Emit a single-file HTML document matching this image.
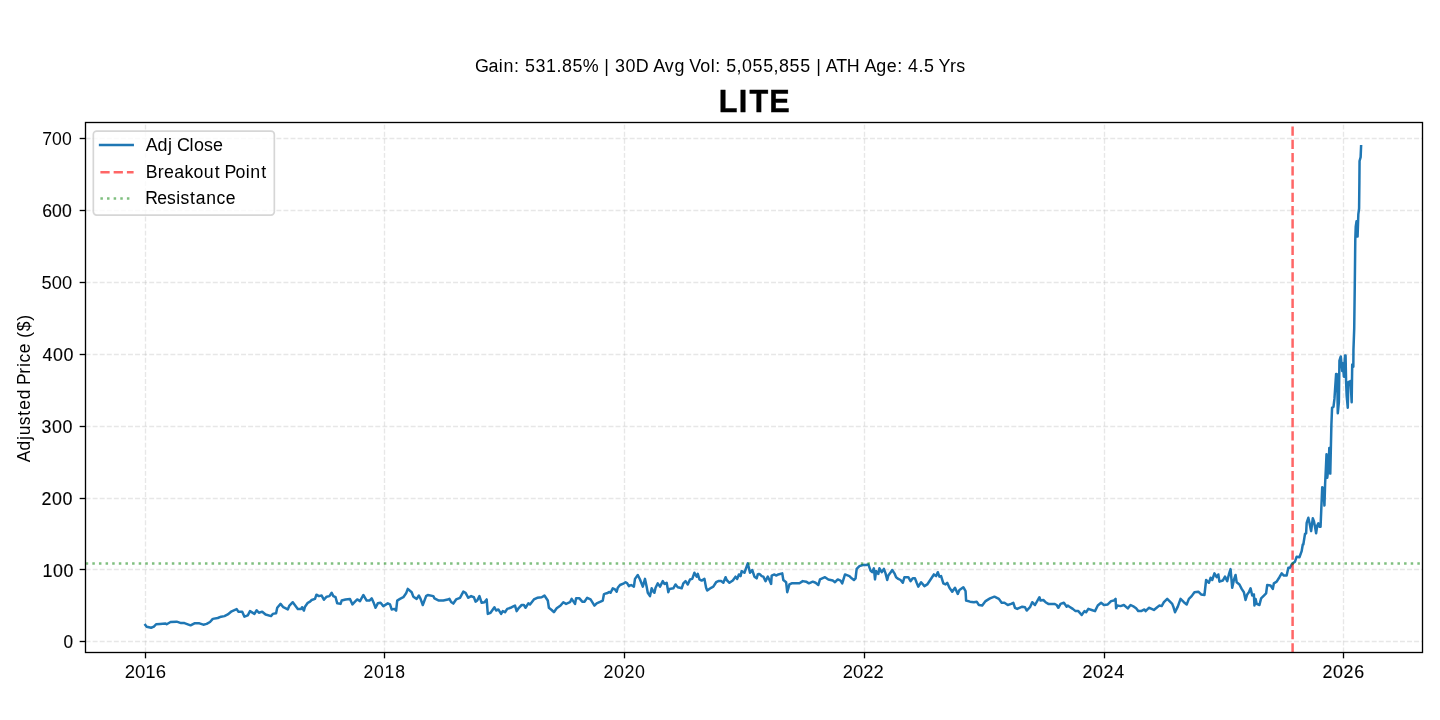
<!DOCTYPE html>
<html><head><meta charset="utf-8"><title>LITE</title><style>
html,body{margin:0;padding:0;background:#fff;width:1440px;height:720px;overflow:hidden}
svg{display:block;will-change:transform}
text{font-family:"Liberation Sans",sans-serif;fill:#000}
</style></head><body>
<svg width="1440" height="720" viewBox="0 0 1440 720">
<g stroke="#b0b0b0" stroke-opacity="0.3" stroke-width="1.333" stroke-dasharray="4.9333 2.1333" fill="none">
<line x1="145.5" y1="652.5" x2="145.5" y2="122.5"/>
<line x1="384.5" y1="652.5" x2="384.5" y2="122.5"/>
<line x1="624.5" y1="652.5" x2="624.5" y2="122.5"/>
<line x1="864.5" y1="652.5" x2="864.5" y2="122.5"/>
<line x1="1104.5" y1="652.5" x2="1104.5" y2="122.5"/>
<line x1="1343.5" y1="652.5" x2="1343.5" y2="122.5"/>
<line x1="85.6" y1="641.5" x2="1422.5" y2="641.5"/>
<line x1="85.6" y1="569.5" x2="1422.5" y2="569.5"/>
<line x1="85.6" y1="498.5" x2="1422.5" y2="498.5"/>
<line x1="85.6" y1="426.5" x2="1422.5" y2="426.5"/>
<line x1="85.6" y1="354.5" x2="1422.5" y2="354.5"/>
<line x1="85.6" y1="282.5" x2="1422.5" y2="282.5"/>
<line x1="85.6" y1="210.5" x2="1422.5" y2="210.5"/>
<line x1="85.6" y1="138.5" x2="1422.5" y2="138.5"/>
</g>
<polyline points="145.33,625.00 146.67,626.67 151.11,627.78 153.89,626.67 156.11,624.22 160.00,623.89 165.56,623.56 166.67,624.22 170.56,622.00 176.67,621.67 181.11,623.11 184.44,623.11 190.56,625.33 194.44,623.33 199.44,623.33 203.33,624.67 206.67,623.89 210.00,622.00 212.78,618.89 217.78,618.00 221.11,616.67 224.44,616.11 227.78,614.44 231.67,611.33 236.67,609.11 238.33,611.67 242.22,611.67 244.44,616.67 247.78,615.33 250.00,611.11 254.44,613.89 256.67,610.22 258.89,612.78 262.22,611.67 265.56,614.44 271.11,616.11 272.78,613.89 276.11,613.33 277.22,607.78 280.56,603.89 283.33,607.22 287.78,609.44 289.44,605.56 292.78,602.22 297.78,608.89 297.78,608.89 301.11,608.89 302.00,607.22 303.89,610.56 305.00,606.67 307.78,602.78 310.00,601.67 311.67,600.00 315.00,598.89 316.44,594.67 318.89,596.11 321.67,595.56 323.89,599.78 326.67,596.67 329.44,596.11 331.67,592.78 333.33,596.11 335.56,597.22 337.22,603.33 340.56,603.89 341.67,600.56 345.56,599.44 350.00,598.89 352.44,604.44 355.00,601.67 357.22,599.44 360.00,601.11 363.33,595.00 366.67,600.56 369.44,600.56 371.67,598.33 373.89,603.33 375.56,607.78 377.78,603.33 380.56,602.78 383.33,606.11 387.78,603.33 390.00,604.44 391.67,609.44 394.44,608.89 396.11,610.56 397.22,600.56 400.00,598.89 403.33,597.22 406.11,593.33 407.78,588.89 411.67,592.22 413.33,596.67 416.67,598.89 418.89,595.56 420.56,598.89 422.78,605.00 426.11,596.11 427.78,595.00 433.33,596.11 434.44,598.33 438.89,600.56 443.33,600.56 447.78,599.44 448.33,599.44 449.44,598.89 451.11,602.00 453.33,603.56 456.11,599.44 460.00,597.78 463.33,591.67 465.56,592.78 468.33,597.78 471.11,596.11 473.89,597.22 475.56,601.67 477.22,600.56 479.44,596.11 481.67,602.78 484.44,602.22 486.67,599.44 487.78,613.89 490.56,612.78 494.44,607.22 496.11,610.56 498.33,609.44 501.11,613.89 502.78,611.11 505.00,612.22 507.22,608.89 510.56,607.78 512.78,606.67 515.00,605.56 516.67,611.11 518.89,607.78 521.67,605.00 523.89,605.00 525.56,607.78 528.33,603.33 530.00,604.44 533.89,599.44 537.22,597.78 541.67,597.22 544.44,595.56 547.78,600.56 548.89,607.78 551.67,610.00 553.89,612.22 556.67,608.33 560.56,605.56 563.33,602.22 566.11,603.89 570.00,602.22 571.67,598.89 575.00,603.89 576.11,598.33 579.44,598.33 582.22,601.67 584.44,601.67 587.22,597.78 590.56,599.44 594.44,605.56 596.67,603.33 600.56,601.67 602.78,600.56 603.89,594.44 604.44,593.89 606.67,593.33 609.44,592.00 610.56,592.78 612.78,588.33 615.00,589.44 616.67,591.67 617.78,587.78 620.00,585.00 623.89,583.33 625.56,582.22 627.22,583.33 628.89,586.11 631.11,585.00 633.89,586.67 635.00,578.89 637.78,575.00 640.00,579.44 642.78,586.67 645.00,578.89 646.67,586.67 647.78,592.78 650.00,596.11 651.67,588.33 653.33,591.67 654.44,592.78 655.56,587.78 657.78,583.33 660.00,586.67 662.78,581.11 664.44,583.89 666.67,582.78 668.33,592.22 669.44,588.89 673.33,588.33 675.56,584.44 677.78,587.22 680.00,587.78 681.67,588.33 683.33,583.33 685.56,581.11 687.78,584.44 690.00,579.44 692.22,578.89 694.44,572.78 696.67,576.67 697.78,573.89 699.44,579.44 701.67,580.56 704.44,578.89 706.11,587.78 707.22,590.56 711.11,587.78 713.33,586.67 716.11,582.22 718.33,581.11 721.11,581.11 723.33,582.78 725.56,577.22 726.67,580.00 729.44,582.78 732.78,580.56 735.56,576.67 737.22,578.89 738.89,574.44 740.56,576.11 741.67,571.11 744.44,572.78 747.78,563.33 750.00,572.78 752.22,570.00 754.44,576.67 756.67,578.33 757.78,574.44 758.89,573.89 760.00,574.44 761.67,576.11 763.33,576.67 765.56,581.11 767.78,576.67 769.44,580.00 771.11,583.89 771.67,575.56 774.44,574.44 776.11,575.56 778.33,574.44 782.22,573.33 783.33,580.00 786.11,582.22 787.22,592.22 789.44,584.44 791.67,583.33 796.11,583.33 799.44,583.33 802.78,581.11 806.11,581.67 808.89,583.33 812.78,581.67 815.56,582.78 818.33,585.00 820.00,579.44 825.00,577.22 828.33,579.44 832.78,580.56 835.00,582.22 837.78,579.44 840.56,580.56 842.22,583.33 845.00,574.44 849.44,576.11 851.67,578.33 853.89,580.00 855.56,578.33 856.67,568.89 859.44,566.11 862.78,565.00 866.11,565.00 868.33,564.44 870.56,570.56 872.22,572.22 873.89,568.33 875.00,579.44 876.11,571.11 878.33,573.89 879.44,568.33 881.67,572.22 883.89,568.89 885.56,573.33 887.22,580.00 888.33,575.56 890.00,573.33 892.22,570.00 894.44,573.33 896.11,577.22 898.33,578.89 900.56,580.00 902.78,582.78 904.44,577.22 908.33,577.22 910.56,581.11 912.78,578.33 913.89,578.33 915.00,578.33 916.67,582.78 918.33,586.67 921.11,582.22 924.44,586.11 927.22,584.44 930.56,579.44 933.89,574.44 936.11,576.11 937.78,572.22 939.44,576.67 941.11,576.11 943.33,583.33 945.56,584.44 947.22,582.78 949.44,587.78 952.22,591.67 955.00,587.78 957.78,593.89 959.44,590.00 963.33,587.22 965.56,591.11 966.11,600.56 970.00,601.67 973.89,602.22 976.67,601.67 978.89,605.00 982.22,605.56 985.56,601.11 990.00,598.33 994.44,596.67 998.89,598.89 1001.67,602.78 1004.44,602.78 1007.78,605.00 1011.11,603.89 1013.33,602.78 1015.00,607.78 1017.22,608.89 1022.22,606.67 1025.00,607.22 1026.67,610.56 1030.00,607.22 1032.22,602.22 1035.00,605.00 1039.44,597.22 1040.56,600.56 1043.33,600.00 1045.56,602.22 1048.33,603.89 1054.44,603.89 1056.67,605.00 1058.33,607.78 1060.56,603.89 1063.89,602.78 1066.67,606.67 1067.78,605.56 1069.44,606.67 1072.78,608.89 1075.56,611.11 1078.33,611.11 1081.67,615.00 1084.44,611.11 1086.11,612.22 1088.33,608.89 1091.67,610.00 1095.00,611.11 1097.78,605.56 1101.11,602.78 1103.89,605.00 1107.78,604.44 1111.11,601.11 1113.89,600.56 1115.56,598.89 1116.11,608.33 1117.22,605.56 1120.56,606.11 1123.89,605.00 1127.78,608.33 1130.56,605.00 1133.89,606.67 1136.11,608.33 1138.33,611.11 1141.11,611.11 1144.44,609.44 1145.56,611.11 1148.89,607.78 1151.67,608.89 1153.89,610.00 1157.22,607.22 1159.44,605.56 1161.67,606.11 1163.89,602.22 1167.22,598.89 1170.00,601.67 1172.22,603.89 1173.33,606.67 1175.00,612.22 1177.78,606.67 1180.56,598.89 1183.89,602.22 1186.67,604.44 1188.89,598.89 1191.67,596.11 1194.44,592.22 1198.33,591.67 1201.11,594.44 1204.44,595.00 1206.11,580.00 1208.89,582.78 1210.56,577.78 1212.22,580.00 1214.44,573.33 1216.67,577.22 1218.33,574.44 1219.44,581.67 1222.78,580.56 1222.78,580.56 1225.00,576.67 1227.22,581.11 1228.89,574.44 1230.56,569.11 1232.22,587.78 1233.89,580.00 1235.56,575.00 1236.67,582.22 1239.44,584.44 1241.67,588.89 1243.89,592.22 1245.56,600.00 1247.22,594.44 1248.89,592.22 1250.56,588.33 1252.22,595.56 1253.89,594.44 1254.44,605.56 1255.56,598.89 1256.67,603.89 1259.44,605.00 1261.11,598.33 1263.89,595.56 1266.11,593.33 1267.22,585.00 1270.56,585.56 1272.78,588.89 1273.89,583.33 1276.67,581.67 1279.44,577.22 1281.67,573.33 1283.89,575.56 1286.67,575.56 1288.33,567.78 1290.00,567.78 1291.67,564.44 1292.78,563.33 1295.00,561.67 1296.67,556.67 1299.44,557.22 1301.67,551.11 1302.78,544.44 1303.33,544.44 1305.00,533.89 1306.11,533.33 1306.67,522.78 1308.33,517.78 1309.44,522.78 1311.11,531.11 1312.78,518.33 1313.89,521.11 1315.00,526.67 1316.11,533.33 1317.22,525.56 1318.33,523.33 1319.44,526.67 1320.56,526.67 1322.22,487.22 1323.33,488.33 1324.44,505.56 1325.14,483.33 1325.83,469.44 1326.53,454.17 1327.22,477.78 1328.61,466.67 1329.31,447.92 1330.28,473.61 1330.69,455.56 1331.39,425.00 1332.08,407.64 1333.47,406.94 1334.44,398.89 1336.11,373.89 1337.22,374.44 1337.78,413.33 1338.89,402.22 1339.44,360.56 1340.78,356.44 1342.22,371.11 1342.78,363.33 1343.89,376.67 1345.00,355.56 1345.56,355.56 1346.11,382.22 1346.67,395.56 1347.78,407.78 1348.33,382.22 1350.56,381.11 1351.67,402.22 1352.22,364.44 1353.33,366.67 1353.45,350.01 1354.21,328.62 1354.82,282.02 1355.28,240.00 1355.74,226.67 1356.50,221.33 1357.57,236.60 1358.33,214.45 1359.10,208.34 1359.40,180.84 1359.56,160.97 1360.63,157.15 1361.08,146.31" fill="none" stroke="#1f77b4" stroke-width="2.5" stroke-linejoin="round" stroke-linecap="square"/>
<line x1="1292.6" y1="652.5" x2="1292.6" y2="122.5" stroke="#ff0000" stroke-opacity="0.6" stroke-width="2.5" stroke-dasharray="9.25 4"/>
<line x1="85.7" y1="563.4" x2="1422.5" y2="563.4" stroke="#008000" stroke-opacity="0.5" stroke-width="2.5" stroke-dasharray="2.5 4.125"/>
<rect x="85.5" y="122.5" width="1337.0" height="530.0" fill="none" stroke="#000" stroke-width="1.333"/>
<g stroke="#000" stroke-width="1.333">
<line x1="145.5" y1="652.5" x2="145.5" y2="658.33"/>
<line x1="384.5" y1="652.5" x2="384.5" y2="658.33"/>
<line x1="624.5" y1="652.5" x2="624.5" y2="658.33"/>
<line x1="864.5" y1="652.5" x2="864.5" y2="658.33"/>
<line x1="1104.5" y1="652.5" x2="1104.5" y2="658.33"/>
<line x1="1343.5" y1="652.5" x2="1343.5" y2="658.33"/>
<line x1="79.67" y1="641.5" x2="85.5" y2="641.5"/>
<line x1="79.67" y1="569.5" x2="85.5" y2="569.5"/>
<line x1="79.67" y1="498.5" x2="85.5" y2="498.5"/>
<line x1="79.67" y1="426.5" x2="85.5" y2="426.5"/>
<line x1="79.67" y1="354.5" x2="85.5" y2="354.5"/>
<line x1="79.67" y1="282.5" x2="85.5" y2="282.5"/>
<line x1="79.67" y1="210.5" x2="85.5" y2="210.5"/>
<line x1="79.67" y1="138.5" x2="85.5" y2="138.5"/>
</g>
<rect x="93.33" y="131.2" width="181" height="84" rx="3.33" ry="3.33" fill="#fff" fill-opacity="0.8" stroke="#ccc" stroke-opacity="0.8" stroke-width="1.667"/>
<line x1="100.1" y1="145.0" x2="132.7" y2="145.0" stroke="#1f77b4" stroke-width="2.5" stroke-linecap="square"/>
<line x1="100.4" y1="172.3" x2="133.6" y2="172.3" stroke="#ff0000" stroke-opacity="0.6" stroke-width="2.5" stroke-dasharray="9.25 4"/>
<line x1="100.4" y1="198.5" x2="133.5" y2="198.5" stroke="#008000" stroke-opacity="0.5" stroke-width="2.5" stroke-dasharray="2.5 4.125"/>
<text x="467.44 480.74 490.97 495.49 505.88 511.24 516.59 527.00 537.41 547.67 553.02 563.43 573.48 589.24 594.75 599.95 605.31 615.72 625.76 638.57 642.85 654.27 663.81 674.05 678.21 689.17 699.39 703.93 709.28 714.64 724.89 730.25 740.66 751.07 761.32 766.68 777.09 787.50 797.76 803.27 808.47 812.63 823.10 833.27 845.93 850.70 862.47 872.70 882.93 888.29 893.65 903.90 909.26 919.51 923.69 934.99 941.14" y="71.66" font-size="17.60" transform="scale(1.0161 1)">Gain: 531.85% | 30D Avg Vol: 5,055,855 | ATH Age: 4.5 Yrs</text>
<text x="744.70 765.68 776.78 797.10" y="112.21" font-size="31.80" font-weight="bold" stroke="#000" stroke-width="0.397" transform="scale(0.9650 1)">LITE</text>
<text x="-74.64 -62.73 -52.15 -47.44 -37.27 -27.66 -21.66 -11.19 -0.75 3.42 14.73 21.48 25.98 35.25 45.52 50.97 57.61 68.18" y="0" font-size="17.60" transform="translate(29.72 388.27) rotate(-90) scale(0.9916 1)">Adjusted Price ($)</text>
<text x="73.19" y="647.81" font-size="18.10" text-anchor="end" stroke="#000" stroke-width="0.120" textLength="9.59" lengthAdjust="spacingAndGlyphs">0</text>
<text x="41.77 52.20 62.62" y="576.55" font-size="17.60" stroke="#000" stroke-width="0.143" transform="scale(1.0150 1)">100</text>
<text x="41.44 52.02 62.60" y="504.82" font-size="17.85" stroke="#000" stroke-width="0.131" transform="scale(1.0000 1)">200</text>
<text x="41.38 51.96 62.53" y="433.03" font-size="17.85" stroke="#000" stroke-width="0.120" transform="scale(1.0000 1)">300</text>
<text x="41.81 52.23 62.65" y="360.89" font-size="17.60" stroke="#000" stroke-width="0.120" transform="scale(1.0150 1)">400</text>
<text x="72.15" y="289.37" font-size="17.85" text-anchor="end" textLength="30.60" lengthAdjust="spacingAndGlyphs">500</text>
<text x="71.68" y="217.38" font-size="18.35" text-anchor="end" stroke="#000" stroke-width="0.120" textLength="29.36" lengthAdjust="spacingAndGlyphs">600</text>
<text x="71.69" y="145.35" font-size="17.60" text-anchor="end" textLength="29.36" lengthAdjust="spacingAndGlyphs">700</text>
<text x="145.32" y="677.69" font-size="17.85" text-anchor="middle" textLength="41.31" lengthAdjust="spacingAndGlyphs">2016</text>
<text x="363.42 374.00 384.58 395.16" y="678.40" font-size="17.60" transform="scale(1.0000 1)">2018</text>
<text x="603.38 613.96 624.53 635.11" y="678.37" font-size="17.85" transform="scale(1.0000 1)">2020</text>
<text x="863.20" y="678.42" font-size="17.85" text-anchor="middle" textLength="40.88" lengthAdjust="spacingAndGlyphs">2022</text>
<text x="1066.41 1076.83 1087.25 1097.68" y="678.31" font-size="17.60" stroke="#000" stroke-width="0.110" transform="scale(1.0150 1)">2024</text>
<text x="1302.88 1313.30 1323.72 1334.14" y="677.83" font-size="17.60" stroke="#000" stroke-width="0.124" transform="scale(1.0150 1)">2026</text>
<text x="143.09 154.71 165.10 169.47 173.86 186.23 190.55 200.29 209.08" y="151.06" font-size="17.60" stroke="#000" stroke-width="0.009" transform="scale(1.0182 1)">Adj Close</text>
<text x="144.39 156.17 162.47 172.58 182.57 191.57 201.82 212.71 218.56 222.40 233.07 243.33 247.89 258.78" y="177.73" font-size="17.60" transform="scale(1.0100 1)">Breakout Point</text>
<text x="145.95 157.98 167.96 177.08 181.31 190.89 196.84 207.25 217.64 226.88" y="203.93" font-size="17.60" stroke="#000" stroke-width="0.060" transform="scale(0.9950 1)">Resistance</text>
</svg>
</body></html>
